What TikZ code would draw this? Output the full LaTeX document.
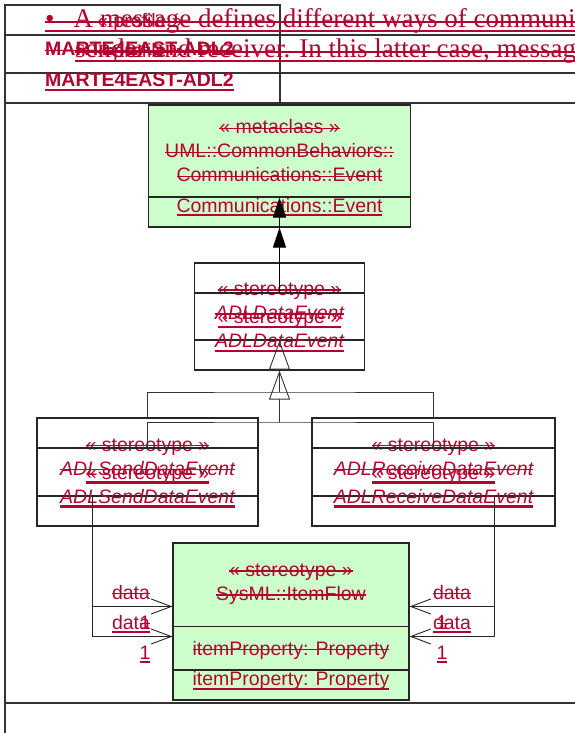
\documentclass[tikz,border=0pt]{standalone}
\usepackage{fontspec}
\setmainfont{Liberation Serif}
\setsansfont{Liberation Sans}
\usetikzlibrary{arrows.meta,positioning,calc}

\definecolor{delred}{RGB}{178,4,46}
\definecolor{boxgreen}{RGB}{204,255,204}

% struck-out (old) and underlined (new) text
\newsavebox{\markbox}
\newcommand{\oldtxt}[1]{\sbox{\markbox}{#1}\rlap{\rule[0.5ex]{\wd\markbox}{1.3pt}}\usebox{\markbox}}
\newcommand{\newtxt}[1]{\sbox{\markbox}{#1}\rlap{\rule[-4.4pt]{\wd\markbox}{2.2pt}}\usebox{\markbox}}

\begin{document}
\begin{tikzpicture}[x=1pt, y=-1pt,
        umlbox/.style={rectangle, draw=black!85, line width=1.1pt, inner sep=0pt, align=center, font=\sffamily\fontsize{19.5}{24}\selectfont, text=delred},
        greenbox/.style={umlbox, fill=boxgreen},
        umltext/.style={inner sep=0pt, align=center, font=\sffamily\fontsize{19.5}{24}\selectfont, text=delred},
        lbl/.style={inner sep=0pt, anchor=base, font=\sffamily\fontsize{19.5}{24}\selectfont, text=delred},
        pkgname/.style={lbl, anchor=base west, font=\sffamily\bfseries\fontsize{19.5}{24}\selectfont},
        rowrule/.style={draw=delred, line width=1.5pt},
        serifrow/.style={inner sep=0pt, anchor=base west, font=\rmfamily\fontsize{27}{28}\selectfont, text=delred,
          append after command={([yshift=6pt]\tikzlastnode.base west) edge[rowrule] ([yshift=6pt]\tikzlastnode.base east)
            ([yshift=-3pt]\tikzlastnode.base west) edge[rowrule] ([yshift=-3pt]\tikzlastnode.base east)}},
        frameline/.style={draw=black!80, line width=1.1pt},
        boxsep/.style={draw=black!85, line width=1.1pt},
        extend/.style={draw=black, line width=1pt, -{Triangle[length=20pt,width=13pt]}},
        genline/.style={draw=black!80, line width=0.9pt},
        generalize/.style={genline, -{Triangle[open,length=29pt,width=21pt]}},
        assoc/.style={draw=black!85, line width=0.9pt, -{Straight Barb[length=20pt,width=15pt]}},
      ]
      \useasboundingbox (0,0) rectangle (575,733);
      \clip (0,0) rectangle (575,733);

      % frame of the document page
      \draw[frameline] (5,733) -- (5,5) -- (280,5) -- (280,103);
      \draw[frameline] (5,35) -- (575,35);
      \draw[frameline] (5,73) -- (575,73);
      \draw[frameline] (5,103) -- (575,103);
      \draw[frameline, line width=2pt] (5,703) -- (575,703);

      % header text
      \node[serifrow] (rowone) at (45,28) {\textbullet\hspace{19pt}A message defines different ways of communic};
      \node[serifrow] (rowtwo) at (75,58) {sender and receiver. In this latter case, message};
      \node[lbl] (profold) at (140,28) {\oldtxt{« profile »}};
      \node[lbl] (profnew) at (140,58) {\newtxt{« profile »}};
      \node[pkgname] (pkgold) at (45,56) {\oldtxt{MARTE4EAST-ADL2}};
      \node[pkgname] (pkgnew) at (45,87) {\newtxt{MARTE4EAST-ADL2}};

      % metaclass
      \node[greenbox, minimum width=262pt, minimum height=92pt] (evtnew) at (279.5,181) {};
      \node[greenbox, minimum width=262pt, minimum height=92pt] (evtold) at (279.5,151)
        {\oldtxt{« metaclass »}\\\oldtxt{UML::CommonBehaviors::}\\\oldtxt{Communications::Event}};
      \node[lbl] (evtnewname) at ([yshift=15.5pt]evtnew.south) {\newtxt{Communications::Event}};

      % stereotypes
      \node[umlbox, minimum width=170pt, minimum height=77pt] (dataold) at (279.5,301.5)
        {\oldtxt{« stereotype »}\\\oldtxt{\itshape ADLDataEvent}};
      \node[umlbox, minimum width=170pt, minimum height=77pt] (datanew) at (279.5,331.5)
        {\newtxt{« stereotype »}\\\newtxt{\itshape ADLDataEvent}};
      \node[umlbox, minimum width=221pt, minimum height=78pt] (sendold) at (147.5,457)
        {\oldtxt{« stereotype »}\\\oldtxt{\itshape ADLSendDataEvent}};
      \node[umlbox, minimum width=221pt, minimum height=78pt] (sendnew) at (147.5,487)
        {\newtxt{« stereotype »}\\\newtxt{\itshape ADLSendDataEvent}};
      \node[umlbox, minimum width=243pt, minimum height=78pt] (recvold) at (433.5,457)
        {\oldtxt{« stereotype »}\\\oldtxt{\itshape ADLReceiveDataEvent}};
      \node[umlbox, minimum width=243pt, minimum height=78pt] (recvnew) at (433.5,487)
        {\newtxt{« stereotype »}\\\newtxt{\itshape ADLReceiveDataEvent}};

      % item flow
      \node[greenbox, minimum width=236pt, minimum height=127pt] (flownew) at (291,636.5) {};
      \node[greenbox, minimum width=236pt, minimum height=127pt] (flowold) at (291,606.5) {};
      \draw[boxsep] ([yshift=-84pt]flowold.north west) -- ([yshift=-84pt]flowold.north east);
      \node[umltext] (flowname) at ([yshift=-42pt]flowold.north) {\oldtxt{« stereotype »}\\\oldtxt{SysML::ItemFlow}};
      \node[lbl] (flowattrold) at ([yshift=15pt]flowold.south) {\oldtxt{itemProperty: Property}};
      \node[lbl] (flowattrnew) at ([yshift=15pt]flownew.south) {\newtxt{itemProperty: Property}};

      % extension
      \draw[extend] (dataold.north) -- (evtold.south);
      \draw[extend] (datanew.north) -- (evtnew.south);

      % generalization
      \coordinate (forkold) at (279.5,392);
      \coordinate (forknew) at (279.5,422);
      \draw[genline] (sendold.north) |- (forkold) -| (recvold.north);
      \draw[genline] (sendnew.north) |- (forknew) -| (recvnew.north);
      \draw[generalize] (forkold) -- (dataold.south);
      \draw[generalize] (forknew) -- (datanew.south);

      % associations
      \draw[assoc] ([xshift=-55.5pt]sendold.south) |- (flowold.west);
      \draw[assoc] ([xshift=-55.5pt]sendnew.south) |- (flownew.west);
      \draw[assoc] ([xshift=60.5pt]recvold.south) |- (flowold.east);
      \draw[assoc] ([xshift=60.5pt]recvnew.south) |- (flownew.east);

      % role names and multiplicities
      \node[lbl] (sdataold) at (131,599) {\oldtxt{data}};
      \node[lbl] (sdatanew) at (131,629) {\newtxt{data}};
      \node[lbl] (smultold) at (145,629) {\oldtxt{1}};
      \node[lbl] (smultnew) at (145,659) {\newtxt{1}};
      \node[lbl] (rdataold) at (452,599) {\oldtxt{data}};
      \node[lbl] (rdatanew) at (452,629) {\newtxt{data}};
      \node[lbl] (rmultold) at (442,629) {\oldtxt{1}};
      \node[lbl] (rmultnew) at (442,659) {\newtxt{1}};
    \end{tikzpicture}
\end{document}
